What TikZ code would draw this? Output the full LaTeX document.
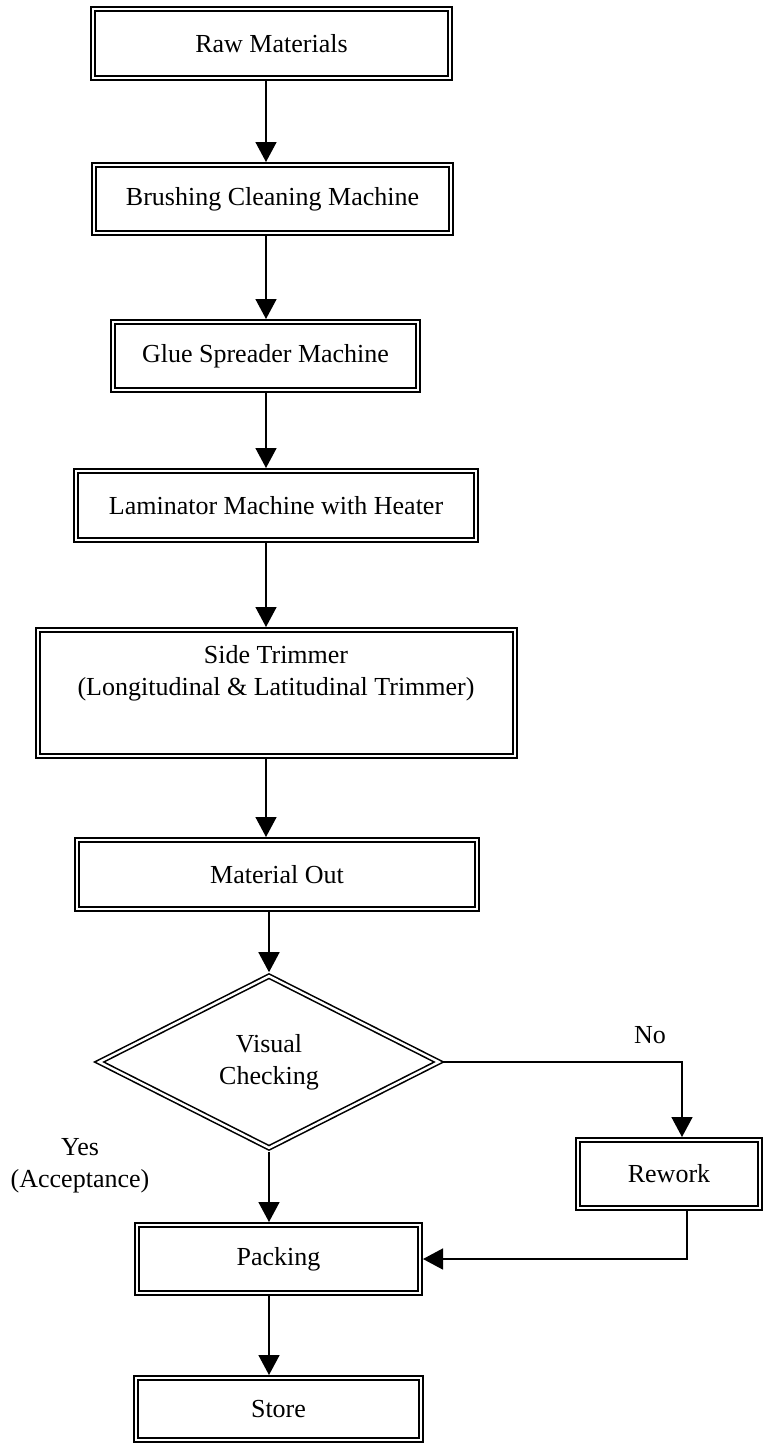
\documentclass[tikz,border=0pt]{standalone}
\usepackage{fontspec}
\setmainfont{Liberation Serif}
\usetikzlibrary{arrows.meta,shapes.geometric}
\begin{document}
\begin{tikzpicture}[x=1pt,y=-1pt,
  box/.style={draw, line width=1.6pt, double, double distance=2.4pt, outer sep=2.8pt, inner sep=0pt, font=\fontsize{26}{31}\selectfont, align=center},
  flow/.style={line width=1.6pt, -{Triangle[width=21pt,length=20pt]}},
  lbl/.style={font=\fontsize{26}{32}\selectfont, align=center, inner sep=0pt}]
\useasboundingbox (0,0) rectangle (764,1445);
% process boxes
\node[box, minimum width=357.4pt, minimum height=69.4pt] (raw) at (271.5,43.5) {Raw Materials};
\node[box, minimum width=357.4pt, minimum height=68.4pt] (brush) at (272.5,199) {Brushing Cleaning Machine};
\node[box, minimum width=305.4pt, minimum height=68.4pt] (glue) at (265.5,356) {Glue Spreader Machine};
\node[box, minimum width=400.4pt, minimum height=69.4pt] (lam) at (276,505.5) {Laminator Machine with Heater};
\node[box, minimum width=477.4pt, minimum height=126.4pt] (side) at (276.5,693) {};
\node[lbl] (sidetext) at (276,673) {Side Trimmer\\(Longitudinal \& Latitudinal Trimmer)};
\node[box, minimum width=400.4pt, minimum height=69.4pt] (mat) at (277,874.5) {Material Out};
\node[box, shape=diamond, minimum width=342pt, minimum height=174pt, font=\fontsize{26}{32}\selectfont] (d) at (269,1062) {Visual\\Checking};
\node[box, minimum width=182.4pt, minimum height=68.4pt] (rework) at (669,1174) {Rework};
\node[box, minimum width=283.4pt, minimum height=68.4pt] (packing) at (278.5,1259) {Packing};
\node[box, minimum width=285.4pt, minimum height=62.4pt] (store) at (278.5,1409) {Store};
% labels
\node[lbl] (no) at (650,1035) {No};
\node[lbl] (yes) at (80,1166) {Yes\\(Acceptance)};
% helper coordinates
\coordinate (ax) at (266,0);
\coordinate (dx) at (269,0);
\coordinate (nx) at (682,0);
\coordinate (rx) at (687,0);
% connectors
\draw[flow] (raw.south -| ax) -- (brush.north -| ax);
\draw[flow] (brush.south -| ax) -- (glue.north -| ax);
\draw[flow] (glue.south -| ax) -- (lam.north -| ax);
\draw[flow] (lam.south -| ax) -- (side.north -| ax);
\draw[flow] (side.south -| ax) -- (mat.north -| ax);
\draw[flow] (mat.south -| dx) -- (d.north);
\draw[flow] (d.south) -- (packing.north -| dx);
\draw[flow] (packing.south -| dx) -- (store.north -| dx);
\draw[flow] (d.east) -| (nx |- rework.north);
\draw[flow] (rework.south -| rx) |- (packing.east);
\end{tikzpicture}
\end{document}
